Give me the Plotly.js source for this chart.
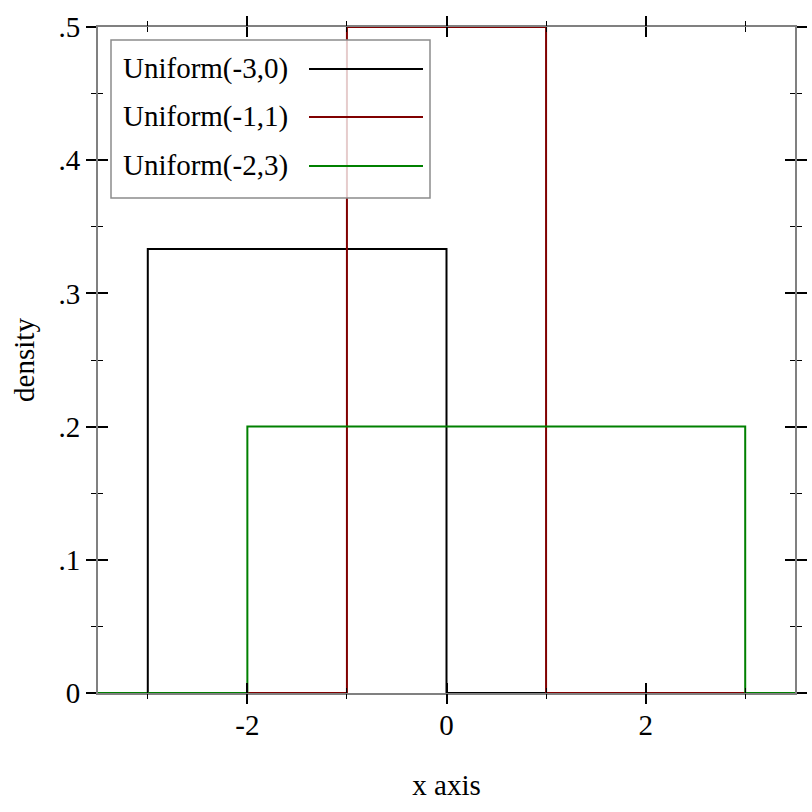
<!DOCTYPE html>
<html>
<head>
<meta charset="utf-8">
<script src="https://cdn.plot.ly/plotly-3.0.1.min.js"></script>
<style>html,body{margin:0;padding:0;background:#fff;}#plot{width:812px;height:812px;}</style>
</head>
<body>
<div id="plot"></div>
<script>
// ---- data ----
const seriesNames = ['Uniform(-3,0)', 'Uniform(-1,1)', 'Uniform(-2,3)'];
const seriesColors = ['rgb(0,0,0)', 'rgb(128,0,0)', 'rgb(0,128,0)'];
const xUnif30 = [-3.5, -3, -3, 0, 0, 3.5];
const yUnif30 = [0, 0, 0.3333, 0.3333, 0, 0];
const xUnif11 = [-3.5, -1, -1, 1, 1, 3.5];
const yUnif11 = [0, 0, 0.5, 0.5, 0, 0];
const xUnif23 = [-3.5, -2, -2, 3, 3, 3.5];
const yUnif23 = [0, 0, 0.2, 0.2, 0, 0];
const xTickVals = [-2, 0, 2];
const xTickText = ['-2', '0', '2'];
const yTickVals = [0, 0.1, 0.2, 0.3, 0.4, 0.5];
const yTickText = ['0', '.1', '.2', '.3', '.4', '.5'];

const xs = [xUnif30, xUnif11, xUnif23];
const ys = [yUnif30, yUnif11, yUnif23];

const FONT = 'Liberation Serif, Times New Roman, serif';
const FS = 29;

const traces = xs.map((x, i) => ({
  type: 'scatter', mode: 'lines', x: x, y: ys[i], name: seriesNames[i],
  line: {color: seriesColors[i], width: 2}, showlegend: false, hoverinfo: 'skip'
}));
// empty trace to create the overlay subplot (second set of ticks)
traces.push({type: 'scatter', mode: 'lines', x: [], y: [], xaxis: 'x2', yaxis: 'y2', showlegend: false});

// plot-area geometry for legend placement
const L = 98, R = 795, T = 27, B = 693;
const px = v => (v - L) / (R - L);
const py = v => (B - v) / (B - T);

const shapes = [{
  type: 'rect', xref: 'paper', yref: 'paper', layer: 'above',
  x0: px(111), x1: px(430), y0: py(198), y1: py(40),
  fillcolor: 'rgba(255,255,255,0.8)', line: {color: 'rgb(140,140,140)', width: 1.5}
}];
const annotations = [];
const rowY = [68, 116, 165];
seriesNames.forEach((n, i) => {
  annotations.push({
    xref: 'paper', yref: 'paper', x: px(121), y: py(rowY[i]), xanchor: 'left', yanchor: 'middle',
    text: n, showarrow: false, font: {family: FONT, size: FS, color: '#000'}
  });
  shapes.push({
    type: 'line', xref: 'paper', yref: 'paper', layer: 'above',
    x0: px(309), x1: px(423), y0: py(rowY[i] + 1), y1: py(rowY[i] + 1),
    line: {color: seriesColors[i], width: 2}
  });
});

const xRange = [-3.5, 3.5];
const yRange = [0, 0.5];
const common = {
  showgrid: false, zeroline: false, tickcolor: '#000', tickwidth: 2, ticklen: 10,
  mirror: 'allticks', fixedrange: true
};

const layout = {
  width: 812, height: 812,
  margin: {l: L, r: 812 - R, t: T, b: 812 - B},
  paper_bgcolor: '#fff', plot_bgcolor: '#fff',
  font: {family: FONT, size: FS, color: '#000'},
  xaxis: Object.assign({}, common, {
    range: xRange, ticks: 'inside', tickvals: xTickVals, ticktext: xTickText,
    ticklabelstandoff: 5,
    showline: true, linecolor: 'rgb(128,128,128)', linewidth: 2,
    minor: {dtick: 1, ticks: 'inside', ticklen: 5, tickwidth: 1, tickcolor: '#000'},
    title: {text: 'x axis', font: {family: FONT, size: FS}, standoff: 35}
  }),
  yaxis: Object.assign({}, common, {
    range: yRange, ticks: 'outside', tickvals: yTickVals, ticktext: yTickText,
    showline: true, linecolor: 'rgb(128,128,128)', linewidth: 2,
    minor: {dtick: 0.05, ticks: 'outside', ticklen: 5, tickwidth: 1, tickcolor: '#000'},
    title: {text: 'density', font: {family: FONT, size: FS}, standoff: 15}
  }),
  xaxis2: Object.assign({}, common, {
    range: xRange, overlaying: 'x', anchor: 'y2', ticks: 'outside', tickvals: xTickVals,
    showticklabels: false, showline: false,
    minor: {dtick: 1, ticks: 'outside', ticklen: 5, tickwidth: 1, tickcolor: '#000'}
  }),
  yaxis2: Object.assign({}, common, {
    range: yRange, overlaying: 'y', anchor: 'x2', ticks: 'inside', tickvals: yTickVals,
    showticklabels: false, showline: false,
    minor: {dtick: 0.05, ticks: 'inside', ticklen: 5, tickwidth: 1, tickcolor: '#000'}
  }),
  shapes: shapes,
  annotations: annotations,
  showlegend: false
};

Plotly.newPlot('plot', traces, layout, {displayModeBar: false, staticPlot: true});
</script>
</body>
</html>
